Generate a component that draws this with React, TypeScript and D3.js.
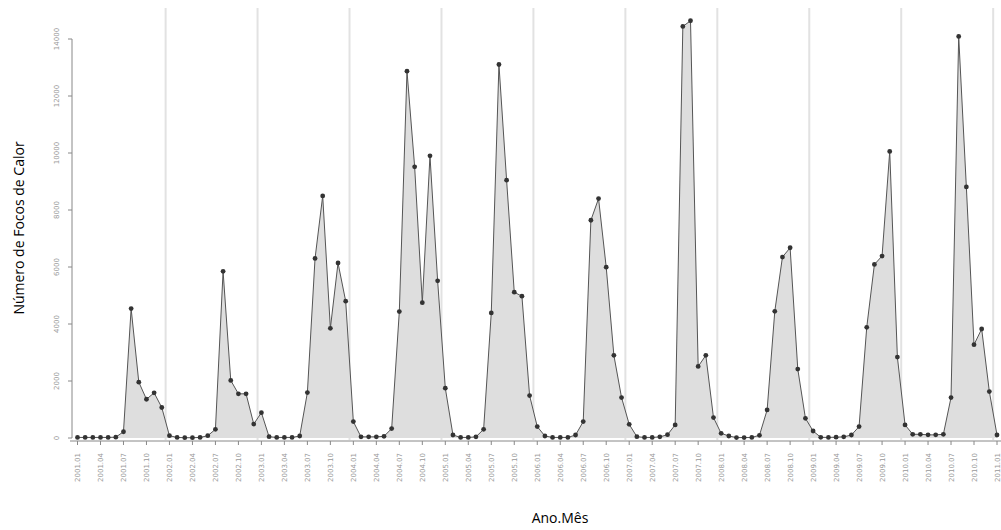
import React, { useRef, useEffect } from "react";
import * as d3 from "d3";

// Monthly fire counts, 2001.01 .. 2011.01
const startYear = 2001;
const focos2001 = [20, 20, 20, 20, 20, 30, 220, 4540, 1960, 1360, 1585, 1070];
const focos2002 = [80, 20, 10, 10, 20, 80, 305, 5850, 2020, 1550, 1550, 490];
const focos2003 = [890, 45, 20, 20, 20, 70, 1595, 6300, 8495, 3850, 6140, 4800];
const focos2004 = [575, 40, 40, 40, 60, 330, 4435, 12870, 9515, 4750, 9900, 5515];
const focos2005 = [1750, 105, 20, 20, 40, 305, 4390, 13105, 9045, 5115, 4975, 1490];
const focos2006 = [400, 70, 20, 20, 20, 105, 575, 7640, 8400, 5995, 2900, 1420];
const focos2007 = [480, 45, 20, 20, 40, 115, 460, 14440, 14640, 2510, 2900, 715];
const focos2008 = [165, 70, 15, 15, 20, 95, 985, 4445, 6350, 6675, 2420, 690];
const focos2009 = [245, 25, 20, 30, 40, 105, 400, 3885, 6090, 6385, 10055, 2840];
const focos2010 = [460, 130, 130, 110, 110, 130, 1420, 14090, 8810, 3275, 3825, 1630];
const focos2011 = [105];

const series = [
  ...focos2001, ...focos2002, ...focos2003, ...focos2004, ...focos2005, ...focos2006,
  ...focos2007, ...focos2008, ...focos2009, ...focos2010, ...focos2011,
];

const yTicks = [0, 2000, 4000, 6000, 8000, 10000, 12000, 14000];

function monthLabel(i: number) {
  const y = startYear + Math.floor(i / 12);
  const m = (i % 12) + 1;
  return `${y}.${m < 10 ? "0" + m : m}`;
}

export default function App() {
  const svgRef = useRef<SVGSVGElement>(null);

  useEffect(() => {
    if (!svgRef.current) return;
    const svg = d3.select(svgRef.current);
    svg.selectAll("*").remove();

    const n = series.length;
    const x = d3.scaleLinear().domain([0, n - 1]).range([77.5, 997]);
    const y = d3.scaleLinear().domain([0, 14000]).range([438, 39]);

    svg.append("rect").attr("width", 1001).attr("height", 530).attr("fill", "#ffffff");

    // year separators (between Dec and Jan)
    for (let k = 1; k * 12 < n; k++) {
      svg.append("line")
        .attr("x1", x(k * 12 - 0.5))
        .attr("x2", x(k * 12 - 0.5))
        .attr("y1", 8)
        .attr("y2", 440)
        .attr("stroke", "#e2e2e2")
        .attr("stroke-width", 2);
    }

    const data = series.map((v, i) => ({ i, v }));

    const area = d3.area<{ i: number; v: number }>()
      .x(d => x(d.i))
      .y0(y(0))
      .y1(d => y(d.v));

    svg.append("path")
      .datum(data)
      .attr("fill", "#dedede")
      .attr("d", area);

    const line = d3.line<{ i: number; v: number }>()
      .x(d => x(d.i))
      .y(d => y(d.v));

    svg.append("path")
      .datum(data)
      .attr("fill", "none")
      .attr("stroke", "#555")
      .attr("stroke-width", 1)
      .attr("d", line);

    svg.append("g")
      .selectAll("circle")
      .data(data)
      .join("circle")
      .attr("cx", d => x(d.i))
      .attr("cy", d => y(d.v))
      .attr("r", 2.4)
      .attr("fill", "#333");

    // y axis
    const yAxis = svg.append("g");
    yAxis.append("line")
      .attr("x1", 72).attr("x2", 72)
      .attr("y1", y(14000)).attr("y2", y(0))
      .attr("stroke", "#888");
    yTicks.forEach(t => {
      yAxis.append("line")
        .attr("x1", 68).attr("x2", 72)
        .attr("y1", y(t)).attr("y2", y(t))
        .attr("stroke", "#888");
      yAxis.append("text")
        .attr("transform", `translate(59,${y(t)}) rotate(-90)`)
        .attr("text-anchor", "middle")
        .style("font-family", "'DejaVu Sans', sans-serif")
        .style("font-size", "7px")
        .style("fill", "#999")
        .text(t);
    });

    // x axis
    const xAxis = svg.append("g");
    xAxis.append("line")
      .attr("x1", 70).attr("x2", 1001)
      .attr("y1", 441).attr("y2", 441)
      .attr("stroke", "#888");
    d3.range(0, n, 3).forEach(i => {
      xAxis.append("line")
        .attr("x1", x(i)).attr("x2", x(i))
        .attr("y1", 441).attr("y2", 445)
        .attr("stroke", "#888");
      xAxis.append("text")
        .attr("transform", `translate(${x(i) + 2.5},453) rotate(-90)`)
        .attr("text-anchor", "end")
        .style("font-family", "'DejaVu Sans', sans-serif")
        .style("font-size", "7px")
        .style("fill", "#999")
        .text(monthLabel(i));
    });

    // axis titles
    svg.append("text")
      .attr("x", 560)
      .attr("y", 523)
      .attr("text-anchor", "middle")
      .style("font-family", "'Open Sans', sans-serif")
      .style("font-size", "14px")
      .style("fill", "#000")
      .text("Ano.Mês");

    svg.append("text")
      .attr("transform", "translate(24,228) rotate(-90)")
      .attr("text-anchor", "middle")
      .style("font-family", "'Open Sans', sans-serif")
      .style("font-size", "14px")
      .style("fill", "#000")
      .text("Número de Focos de Calor");
  }, []);

  return (
    <div style={{ position: "absolute", left: 0, top: 0 }}>
      <svg ref={svgRef} width={1001} height={530} style={{ display: "block" }} />
    </div>
  );
}
